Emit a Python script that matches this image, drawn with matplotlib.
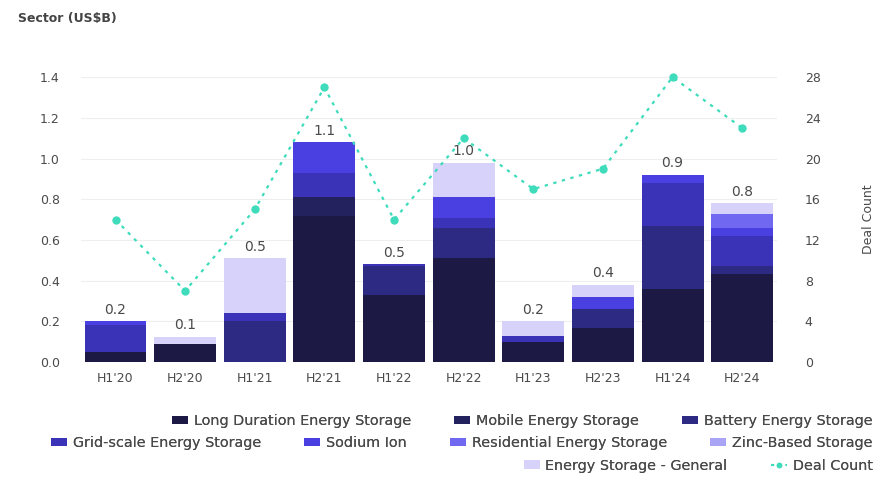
import numpy as np
import matplotlib.pyplot as plt
from matplotlib.patches import Patch
from matplotlib.lines import Line2D

periods = ["H1'20", "H2'20", "H1'21", "H2'21", "H1'22", "H2'22", "H1'23", "H2'23", "H1'24", "H2'24"]

# invested capital by segment, US$B
long_duration = [0.05, 0.09, 0.00, 0.72, 0.33, 0.51, 0.10, 0.17, 0.36, 0.435]
mobile        = [0.00, 0.00, 0.00, 0.09, 0.00, 0.00, 0.00, 0.00, 0.00, 0.00]
battery       = [0.00, 0.00, 0.20, 0.00, 0.14, 0.15, 0.00, 0.09, 0.31, 0.035]
grid_scale    = [0.13, 0.00, 0.04, 0.12, 0.01, 0.05, 0.03, 0.00, 0.21, 0.15]
sodium_ion    = [0.02, 0.00, 0.00, 0.15, 0.00, 0.10, 0.00, 0.06, 0.04, 0.04]
residential   = [0.00, 0.00, 0.00, 0.00, 0.00, 0.00, 0.00, 0.00, 0.00, 0.07]
zinc_based    = [0.00, 0.00, 0.00, 0.00, 0.00, 0.00, 0.00, 0.00, 0.00, 0.00]
general       = [0.00, 0.035, 0.27, 0.00, 0.00, 0.17, 0.07, 0.06, 0.00, 0.05]

deal_count = [14, 7, 15, 27, 14, 22, 17, 19, 28, 23]

segments = [
    ("Long Duration Energy Storage", long_duration, "#1c1a45"),
    ("Mobile Energy Storage", mobile, "#24225e"),
    ("Battery Energy Storage", battery, "#2c2a82"),
    ("Grid-scale Energy Storage", grid_scale, "#3a33b8"),
    ("Sodium Ion", sodium_ion, "#4a40e2"),
    ("Residential Energy Storage", residential, "#7068f0"),
    ("Zinc-Based Storage", zinc_based, "#aaa4f4"),
    ("Energy Storage - General", general, "#d6d2fa"),
]
line_color = "#3fdcbc"
text_color = "#4a4a4a"

fig = plt.figure(figsize=(8.77, 4.79), dpi=100)
ax = fig.add_axes([0.092, 0.244, 0.794, 0.595])
ax2 = ax.twinx()

x = np.arange(len(periods))
bottom = np.zeros(len(periods))
for name, vals, col in segments:
    vals = np.array(vals)
    ax.bar(x, vals, width=0.89, bottom=bottom, color=col, label=name, zorder=2)
    bottom += vals

for xi, total in zip(x, bottom):
    ax.text(xi, total + 0.022, f"{total:.1f}", ha="center", va="bottom",
            fontsize=10, color=text_color, zorder=5)

ax2.plot(x, deal_count, color=line_color, linestyle=(0, (1.5, 2.5)), linewidth=1.6,
         marker="o", markersize=5, clip_on=False, zorder=3)

ax.set_xlim(-0.5, 9.5)
ax.set_ylim(0, 1.4)
ax.set_yticks(np.arange(0, 1.41, 0.2))
ax.set_yticklabels([f"{v:.1f}" for v in np.arange(0, 1.41, 0.2)])
ax2.set_ylim(0, 28)
ax2.set_yticks(range(0, 29, 4))
ax.set_xticks(x)
ax.set_xticklabels(periods)

ax.grid(axis="y", color="#eeeeee", linewidth=0.8, zorder=0)
ax.set_axisbelow(True)
for a in (ax, ax2):
    for s in a.spines.values():
        s.set_visible(False)
    a.tick_params(length=0, labelsize=9, colors=text_color)
ax.tick_params(axis="y", pad=15)
ax.tick_params(axis="x", pad=7)
ax2.tick_params(axis="y", pad=20)
ax2.set_ylabel("Deal Count", fontsize=9, color=text_color, labelpad=30)

fig.text(0.02, 0.955, "Sector (US$B)", fontsize=9, fontweight="bold", color="#444444")

# legend rows, right aligned like a wrapped flex row
handles = [Patch(facecolor=c, label=n) for n, _, c in segments]
handles.append(Line2D([], [], color=line_color, linestyle=(0, (1.5, 2)), linewidth=1.5,
                      marker="o", markersize=3, label="Deal Count"))
rows = [handles[0:3], handles[3:7], handles[7:9]]
row_y = [0.121, 0.075, 0.028]
for hs, yy in zip(rows, row_y):
    leg = fig.legend(handles=hs, loc="center right", bbox_to_anchor=(0.995, yy),
                     ncol=len(hs), frameon=False, fontsize=10.4, handlelength=1.1,
                     handleheight=0.5, handletextpad=0.4, columnspacing=3.0,
                     borderaxespad=0, borderpad=0)
    for t in leg.get_texts():
        t.set_color(text_color)
    fig.add_artist(leg)

fig.savefig("out.png", dpi=100, facecolor="white")
